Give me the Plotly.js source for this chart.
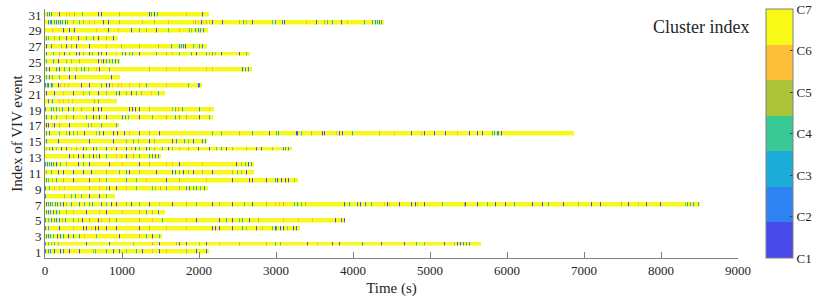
<!DOCTYPE html>
<html>
<head>
<meta charset="utf-8">
<script src="https://cdn.plot.ly/plotly-3.0.1.min.js"></script>
<style>html,body{margin:0;padding:0;background:#fff;}#chart{width:830px;height:300px;}</style>
</head>
<body>
<div id="chart"></div>
<script>
// ---- data ----
const eventIndex = [1,2,3,4,5,6,7,8,9,10,11,12,13,14,15,16,17,18,19,20,21,22,23,24,25,26,27,28,29,30,31];
// duration of each VIV event, s
const durations = [2126,5667,1515,3308,3900,1558,8500,900,2109,3278,2706,2706,1503,3200,2105,6857,957,2180,2190,930,1550,2035,970,2685,970,2655,2105,940,2110,4400,2120];
const clusterLabels = ['C1','C2','C3','C4','C5','C6','C7'];
const clusterValues = [1,2,3,4,5,6,7];
const yTickVals = [1,3,5,7,9,11,13,15,17,19,21,23,25,27,29,31];
const xTickVals = [0,1000,2000,3000,4000,5000,6000,7000,8000,9000];
// background cluster of every event (all other time is this cluster)
const baseCluster = 7;
// moments [time s, cluster] where the event is in another cluster
const ev01 = [[10,2],[40,3],[70,2],[125,1],[200,1],[240,2],[320,1],[450,1],[624,5],[650,4],[797,3],[884,1],[970,2],[1060,5],[1185,3],[1270,1],[1400,6],[1490,1],[1575,6],[1836,5],[1965,1],[2096,1]];
const ev02 = [[10,3],[40,4],[80,5],[120,4],[170,5],[537,1],[840,1],[1145,5],[1400,5],[1490,1],[1705,5],[1750,1],[1836,1],[2010,5],[2096,1],[2270,6],[2528,5],[2880,5],[3000,3],[3060,4],[3415,1],[3545,6],[3740,1],[3830,1],[4130,2],[4370,1],[4670,1],[4825,3],[4930,4],[5190,1],[5320,5],[5360,1],[5400,1],[5440,2],[5480,3],[5520,2]];
const ev03 = [[17,3],[40,2],[70,3],[110,4],[160,1],[200,2],[235,3],[300,1],[364,2],[450,3],[515,6],[665,4],[970,1],[1230,5],[1315,3],[1400,1],[1490,4]];
const ev04 = [[10,2],[40,3],[190,1],[364,6],[494,1],[540,1],[600,6],[650,1],[700,1],[797,1],[930,1],[1230,1],[1360,5],[1575,6],[1836,6],[2180,1],[2220,1],[2270,1],[2440,1],[2570,3],[2615,5],[2745,1],[2830,6],[2960,4],[2990,1],[3010,3],[3060,1],[3100,1],[3150,5],[3230,1],[3270,1]];
const ev05 = [[10,3],[40,4],[80,2],[120,3],[150,2],[190,2],[230,5],[270,3],[364,4],[430,5],[490,1],[580,5],[690,1],[730,6],[840,5],[930,4],[1230,5],[1400,6],[1530,3],[1836,6],[1965,1],[2270,1],[2360,3],[2440,1],[2530,4],[2570,3],[2660,1],[2770,5],[3100,6],[3300,6],[3480,6],[3780,1],[3850,2],[3890,1]];
const ev06 = [[17,3],[40,2],[70,3],[110,2],[150,2],[190,4],[277,5],[364,6],[537,1],[710,6],[797,1],[1013,6],[1230,5],[1315,3],[1400,5],[1470,2]];
const ev07 = [[17,2],[40,3],[70,2],[100,4],[130,3],[160,2],[200,3],[235,1],[277,5],[340,3],[450,2],[515,4],[580,4],[620,3],[730,2],[797,4],[860,1],[930,1],[1060,5],[1120,1],[1230,4],[1360,1],[1490,6],[1663,1],[1836,5],[1965,4],[2180,1],[2270,5],[2440,1],[2595,4],[2700,1],[2880,5],[2990,6],[3050,6],[3100,5],[3240,4],[3280,3],[3330,4],[3390,5],[3890,1],[3960,3],[4065,2],[4100,1],[4170,2],[4240,4],[4410,6],[4450,1],[4480,6],[4605,1],[4760,1],[4820,1],[4845,6],[4930,1],[5170,4],[5450,5],[5470,1],[5625,1],[5755,4],[5860,1],[5990,1],[6100,3],[6340,1],[6450,1],[6530,4],[6730,1],[6920,5],[7095,1],[7205,1],[7485,5],[7570,1],[7700,6],[7810,1],[7985,1],[8310,5],[8340,3],[8380,4],[8420,3],[8480,4]];
const ev08 = [[10,2],[255,5],[340,4],[400,3],[470,4],[580,1],[710,1],[797,4]];
const ev09 = [[10,3],[60,4],[125,6],[190,6],[250,6],[580,5],[710,6],[797,5],[840,1],[930,1],[1060,6],[1185,4],[1400,4],[1440,5],[1500,5],[1580,4],[1750,5],[1836,3],[1880,2],[1925,4],[1970,3],[2020,4],[2070,2]];
const ev10 = [[17,3],[50,4],[100,5],[148,3],[235,5],[364,1],[580,1],[710,5],[797,4],[1060,3],[1185,4],[1315,6],[1575,1],[1750,5],[2096,6],[2440,1],[2660,1],[2700,1],[2880,1],[2990,3],[3020,1],[3070,1],[3120,1],[3160,1],[3240,5]];
const ev11 = [[17,5],[80,4],[170,1],[235,1],[364,1],[494,1],[600,1],[797,5],[970,4],[1060,3],[1100,1],[1230,5],[1445,1],[1663,1],[1700,2],[1750,4],[1800,1],[1860,5],[1925,1],[2053,5],[2180,1],[2440,5],[2500,4],[2560,5],[2615,1]];
const ev12 = [[10,3],[30,2],[55,3],[85,2],[110,3],[150,1],[200,4],[277,5],[430,1],[494,4],[580,1],[840,1],[1013,6],[1230,1],[1360,5],[1575,6],[1663,6],[1750,1],[2053,6],[2486,1],[2550,5],[2600,4],[2640,1],[2690,3]];
const ev13 = [[320,1],[364,5],[430,1],[494,1],[580,4],[624,1],[665,5],[710,1],[797,3],[927,6],[1000,6],[1060,1],[1145,5],[1230,4],[1360,3],[1400,2],[1440,2],[1470,3]];
const ev14 = [[17,5],[60,4],[100,1],[148,5],[210,1],[277,1],[340,6],[407,5],[494,1],[537,4],[624,1],[665,3],[797,1],[860,6],[927,1],[1060,1],[1120,5],[1170,1],[1230,4],[1315,1],[1360,3],[1425,5],[1530,3],[1600,1],[1663,5],[1750,6],[1860,5],[1990,1],[2140,1],[2225,4],[2290,3],[2360,1],[2440,5],[2615,5],[2745,1],[2810,1],[2960,5],[3100,2],[3130,3],[3160,2]];
const ev15 = [[17,2],[170,1],[580,1],[884,1],[1060,5],[1145,4],[1210,5],[1360,1],[1425,5],[1663,1],[1705,2],[1815,3],[1860,5],[1925,1],[2050,2],[2090,3]];
const ev16 = [[20,3],[60,2],[190,4],[277,5],[320,1],[370,4],[420,5],[515,1],[665,5],[710,3],[755,1],[884,1],[940,1],[1035,1],[1100,6],[1230,1],[1360,5],[1490,1],[2180,4],[2290,4],[2530,5],[2700,3],[2920,1],[3005,4],[3040,3],[3265,1],[3285,1],[3330,4],[3460,5],[3610,1],[3630,1],[3785,6],[3830,1],[3870,1],[4000,3],[4350,5],[4540,6],[4760,1],[4890,6],[4930,1],[5060,1],[5210,1],[5365,6],[5515,1],[5625,1],[5690,1],[5820,4],[5840,3],[5880,2],[5900,3],[5940,1]];
const ev17 = [[20,1],[50,1],[100,6],[120,1],[190,5],[320,1],[560,4],[600,5],[730,3],[930,3]];
const ev18 = [[17,2],[80,3],[148,4],[277,5],[364,3],[537,3],[624,1],[665,5],[710,1],[797,1],[1013,2],[1050,3],[1080,4],[1230,1],[1400,4],[1575,5],[1700,3],[1750,4],[1836,5],[2010,1],[2140,4]];
const ev19 = [[10,2],[80,3],[110,4],[150,3],[190,5],[230,3],[300,1],[364,3],[470,5],[624,1],[690,1],[730,1],[1100,1],[1140,1],[1180,1],[1230,1],[1360,5],[1663,5],[1700,4],[1740,5],[1790,3],[2010,2],[2140,6]];
const ev20 = [[40,2],[100,3],[190,6],[240,6],[300,6],[360,6],[645,5],[690,4]];
const ev21 = [[20,1],[125,1],[235,6],[365,1],[494,5],[580,4],[690,1],[797,5],[927,3],[970,1],[1060,5],[1120,1],[1185,4],[1250,5],[1380,6],[1470,3]];
const ev22 = [[10,2],[30,3],[50,2],[80,2],[100,4],[170,1],[200,6],[250,6],[300,6],[470,1],[580,1],[730,4],[800,1],[840,1],[880,6],[950,6],[1000,6],[1100,6],[1230,5],[1315,3],[1575,6],[1860,4],[1990,1],[2010,2]];
const ev23 = [[25,3],[60,2],[100,4],[190,4],[320,1],[400,1],[860,1]];
const ev24 = [[20,2],[60,1],[148,3],[190,1],[255,4],[320,3],[407,5],[470,4],[515,3],[560,5],[665,6],[710,1],[840,4],[1360,5],[1575,6],[1750,6],[2096,6],[2180,6],[2570,1],[2610,3],[2650,2]];
const ev25 = [[25,4],[105,3],[170,1],[277,5],[340,5],[450,5],[690,1],[730,5],[755,1],[800,3],[840,4],[880,3],[920,2],[950,3]];
const ev26 = [[25,2],[105,4],[190,5],[255,1],[320,5],[407,1],[450,1],[494,5],[580,1],[620,4],[690,1],[730,2],[800,1],[930,6],[1010,3],[1050,2],[1100,4],[1140,3],[1230,1],[1445,3],[1575,5],[1660,6],[1750,4],[1900,3],[1965,1],[2096,4],[2140,5],[2180,3],[2220,5],[2290,1],[2528,1],[2615,4]];
const ev27 = [[25,1],[80,2],[210,5],[277,1],[340,5],[407,1],[580,1],[797,6],[992,5],[1230,5],[1470,5],[1640,3],[1750,2],[1775,3],[1800,2],[1830,1],[1925,4],[2010,3],[2050,2]];
const ev28 = [[20,3],[50,4],[125,5],[190,4],[277,1],[340,5],[430,1],[537,4],[624,3],[690,1],[797,5],[884,1]];
const ev29 = [[100,6],[235,1],[320,1],[385,1],[665,6],[820,1],[950,6],[1120,1],[1230,4],[1315,5],[1445,1],[1600,4],[1750,6],[1880,4],[1910,5],[1950,3],[1990,2],[2020,3],[2060,2]];
const ev30 = [[50,2],[70,3],[90,2],[120,3],[150,2],[180,3],[200,2],[230,3],[260,2],[290,4],[365,5],[450,4],[494,5],[580,6],[645,6],[755,1],[820,1],[970,5],[1270,6],[1420,5],[1600,6],[1930,6],[1960,5],[1990,6],[2030,1],[2060,6],[2100,5],[2140,6],[2180,1],[2310,1],[2530,5],[2580,3],[2620,5],[2700,1],[2960,4],[3000,3],[3090,2],[3110,1],[3395,6],[3525,1],[3630,5],[3670,4],[3740,3],[3850,1],[3935,6],[4150,3],[4260,3],[4290,2],[4320,3],[4350,2],[4380,3]];
const ev31 = [[30,3],[60,2],[90,3],[190,1],[280,6],[320,6],[380,5],[490,4],[690,1],[730,1],[970,5],[1360,1],[1390,3],[1420,1],[1460,4],[1840,6],[2050,1]];

// ---- styles ----
const clusterColors = ['#4a4aeb','#2e82f2','#1badd8','#38c996','#adc43a','#fdbf3a','#f8f916'];
const FONT = 'Liberation Serif, Times New Roman, serif';
const AXIS_GRAY = '#808080';
const BIN = 13; // time resolution of the label sequence, s

const eventStripes = [ev01,ev02,ev03,ev04,ev05,ev06,ev07,ev08,ev09,ev10,ev11,ev12,ev13,ev14,ev15,ev16,ev17,ev18,ev19,ev20,ev21,ev22,ev23,ev24,ev25,ev26,ev27,ev28,ev29,ev30,ev31];
const nBins = Math.ceil(9000 / BIN);
const z = eventIndex.map((e, i) => {
  const row = new Array(nBins).fill(null);
  for (let b = 0; b < nBins; b++) if (b * BIN < durations[i]) row[b] = baseCluster;
  eventStripes[i].forEach(([t, c]) => {
    const b = Math.floor(t / BIN);
    if (b < nBins && row[b] !== null) row[b] = c;
  });
  return row;
});

const n = clusterColors.length;
const colorscale = [];
clusterColors.forEach((c, k) => { colorscale.push([k / n, c]); colorscale.push([(k + 1) / n, c]); });

const trace = {
  type: 'heatmap',
  z: z,
  x0: BIN / 2, dx: BIN,
  y: eventIndex,
  zmin: 1, zmax: 7,
  colorscale: colorscale,
  ygap: 3.6,
  hoverinfo: 'skip',
  colorbar: {
    x: 1.0405, xanchor: 'left', xpad: 0,
    y: 0.5, yanchor: 'middle', ypad: 0,
    len: 1, lenmode: 'fraction',
    thickness: 27, thicknessmode: 'pixels',
    outlinewidth: 1, outlinecolor: AXIS_GRAY,
    tickvals: clusterValues, ticktext: clusterLabels,
    ticks: 'inside', ticklen: 3, tickcolor: '#444',
    tickfont: {family: FONT, size: 13, color: '#262626'}
  }
};

const layout = {
  width: 830, height: 300,
  margin: {l: 45, r: 92, t: 9, b: 42, pad: 0},
  paper_bgcolor: '#fff', plot_bgcolor: '#fff',
  showlegend: false,
  font: {family: FONT, color: '#262626'},
  xaxis: {
    range: [0, 9000], tickvals: xTickVals, ticktext: xTickVals.map(String),
    ticks: 'inside', ticklen: 6, tickcolor: AXIS_GRAY, tickwidth: 1,
    showline: true, linecolor: AXIS_GRAY, linewidth: 1,
    showgrid: false, zeroline: false,
    tickfont: {family: FONT, size: 13, color: '#262626'},
    title: {text: 'Time (s)', font: {family: FONT, size: 15, color: '#262626'}, standoff: 5}
  },
  yaxis: {
    range: [0.3, 31.76], tickvals: yTickVals, ticktext: yTickVals.map(String),
    ticks: '', showline: true, linecolor: AXIS_GRAY, linewidth: 1,
    showgrid: false, zeroline: false,
    tickfont: {family: FONT, size: 13, color: '#262626'},
    title: {text: 'Index of VIV event', font: {family: FONT, size: 15, color: '#262626'}, standoff: 2}
  },
  annotations: [{
    text: 'Cluster index', xref: 'paper', yref: 'paper',
    x: 0.9476, y: 0.9276, xanchor: 'center', yanchor: 'middle',
    showarrow: false, font: {family: FONT, size: 18, color: '#262626'}
  }]
};

Plotly.newPlot('chart', [trace], layout, {displayModeBar: false, staticPlot: true});
</script>
</body>
</html>
